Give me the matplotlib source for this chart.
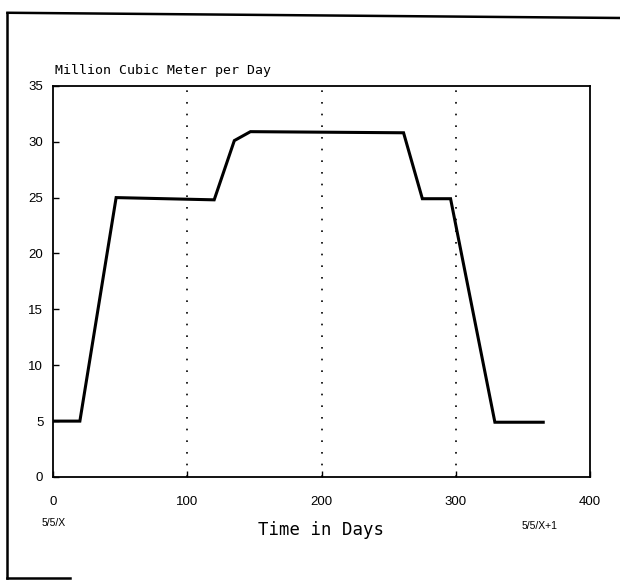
import matplotlib
matplotlib.use("Agg")
import matplotlib.pyplot as plt
from matplotlib.lines import Line2D

# data
days = [0, 20, 47, 120, 135, 147, 261, 275, 296, 329, 365]
flow = [5.0, 5.0, 25.0, 24.8, 30.1, 30.9, 30.8, 24.9, 24.9, 4.9, 4.9]
guide_days = [100, 200, 300]
x_ticks = [0, 100, 200, 300, 400]
y_ticks = [0, 5, 10, 15, 20, 25, 30, 35]

fig = plt.figure(figsize=(6.2, 5.8), dpi=100)
ax = fig.add_axes([0.0855, 0.1776, 0.8665, 0.6744])

ax.plot(days, flow, color="black", linewidth=2.2, solid_joinstyle="miter")
for d in guide_days:
    ax.plot([d, d], [0, 35], color="black", linewidth=1.2, linestyle=(0, (1, 6)))

ax.set_xlim(0, 400)
ax.set_ylim(0, 35)
ax.set_xticks(x_ticks)
ax.set_yticks(y_ticks)
ax.tick_params(direction="in", length=4, width=1, labelsize=9.5)
ax.tick_params(axis="y", pad=7)
ax.tick_params(axis="x", pad=14)
for lab in ax.get_xticklabels() + ax.get_yticklabels():
    lab.set_family("Liberation Sans")
for s in ax.spines.values():
    s.set_linewidth(1.3)

fig.text(0.089, 0.879, "Million Cubic Meter per Day", fontsize=9.5,
         family="DejaVu Sans Mono", ha="left", va="center")
fig.text(0.518, 0.086, "Time in Days", fontsize=12.5,
         family="DejaVu Sans Mono", ha="center", va="center")
fig.text(0.087, 0.099, "5/5/X", fontsize=7.5, family="Liberation Sans",
         ha="center", va="center")
fig.text(0.871, 0.093, "5/5/X+1", fontsize=7.5, family="Liberation Sans",
         ha="center", va="center")

# outer frame of the scanned page
fig.add_artist(Line2D([0.012, 1.0], [0.978, 0.969], color="black", linewidth=1.8))
fig.add_artist(Line2D([0.012, 0.012], [0.978, 0.004], color="black", linewidth=1.8))
fig.add_artist(Line2D([0.012, 0.113], [0.004, 0.004], color="black", linewidth=1.8))

fig.savefig("out.png", dpi=100)
